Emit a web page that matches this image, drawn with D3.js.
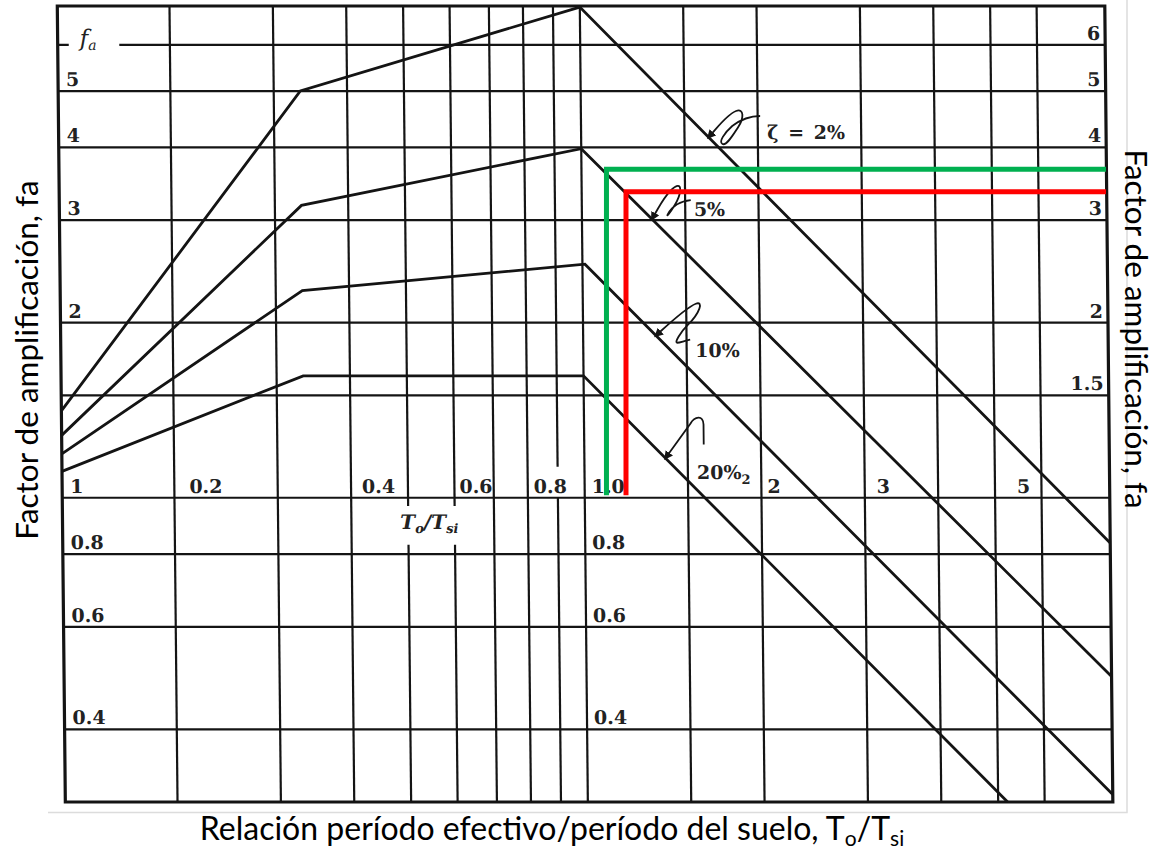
<!DOCTYPE html>
<html><head><meta charset="utf-8">
<script src="https://cdn.jsdelivr.net/npm/d3@7"></script>
<style>
html,body{margin:0;padding:0;background:#fff;}
svg{display:block;}
</style></head><body>
<svg id="chart" width="1159" height="851"></svg>
<script>
// Grid of the log-log chart: period ratio T0/Tsi (horizontal), amplification fa (vertical)
const ratioGrid = [0.2, 0.3, 0.4, 0.5, 0.6, 0.7, 0.8, 0.9, 1, 1.5, 2, 3, 4, 5, 6];
const faGrid = [0.4, 0.6, 0.8, 1, 1.5, 2, 3, 4, 5, 6];

// Tick labels
const ratioLabelValues = [0.2, 0.4, 0.6, 0.8, 1, 2, 3, 5];
const ratioLabels = ["0.2", "0.4", "0.6", "0.8", "1.0", "2", "3", "5"];
const faLeftValues = [5, 4, 3, 2, 1, 0.8, 0.6, 0.4];
const faLeftLabels = ["5", "4", "3", "2", "1", "0.8", "0.6", "0.4"];
const faRightValues = [6, 5, 4, 3, 2, 1.5];
const faRightLabels = ["6", "5", "4", "3", "2", "1.5"];
const faMidValues = [0.8, 0.6, 0.4];
const faMidLabels = ["0.8", "0.6", "0.4"];

// Amplification curves for each damping ratio (corner points)
const dampingLabels = ["2%", "5%", "10%", "20%"];
const ratio2 = [0.1288, 0.333, 1.0, 7.84];
const fa2 = [1.41, 5.0, 6.97, 0.836];
const ratio5 = [0.1288, 0.333, 1.0, 7.84];
const fa5 = [1.28, 3.18, 3.98, 0.493];
const ratio10 = [0.1288, 0.333, 1.01, 7.84];
const fa10 = [1.19, 2.27, 2.52, 0.309];
const ratio20 = [0.1288, 0.333, 1.0, 5.19];
const fa20 = [1.11, 1.62, 1.62, 0.30];

// Ratio at which each damping label points to its curve
const labelRatio = [1.66, 1.321, 1.342, 1.382];

// Design readings: [T0/Tsi, fa]
const greenReading = [1.105, 3.67];
const redReading = [1.193, 3.355];

const svg = d3.select("#chart");
const x = d3.scaleLog().domain([0.1288, 7.84]).range([58.5, 1106]);
const y = d3.scaleLog().domain([0.3, 7]).range([802, 6]);
const [xMin, xMax] = x.domain();
const [yMin, yMax] = y.domain();

// soft frame of the inserted figure
svg.append("path")
  .attr("d", `M1127,0 V812.5 H48`)
  .attr("fill", "none").attr("stroke", "#dcdcdc").attr("stroke-width", 1.5);

// the scanned chart sheet is slightly sheared
const shear = 0.0101, shearRef = 125;
const sheet = svg.append("g")
  .attr("transform", `translate(${-shear * shearRef},0) skewX(${Math.atan(shear) * 180 / Math.PI})`);

const ink = "#141414";
const serif = "'DejaVu Serif', 'Liberation Serif', serif";

// horizontal grid lines, with the gap left for the f_a mark
const hGaps = new Map([[6, [0.1345, 0.164]]]);
faGrid.forEach(v => {
  const gap = hGaps.get(v);
  const segs = gap ? [[xMin, gap[0]], [gap[1], xMax]] : [[xMin, xMax]];
  segs.forEach(s => sheet.append("line")
    .attr("x1", x(s[0])).attr("x2", x(s[1]))
    .attr("y1", y(v)).attr("y2", y(v))
    .attr("stroke", ink).attr("stroke-width", 2.2));
});

// vertical grid lines, with gaps around labels
const vGaps = new Map([[0.5, [0.83, 0.968]], [0.6, [0.83, 0.968]], [0.9, [1.0, 1.13]]]);
ratioGrid.forEach(v => {
  const gap = vGaps.get(v);
  const segs = gap ? [[yMin, gap[0]], [gap[1], yMax]] : [[yMin, yMax]];
  segs.forEach(s => sheet.append("line")
    .attr("x1", x(v)).attr("x2", x(v))
    .attr("y1", y(s[0])).attr("y2", y(s[1]))
    .attr("stroke", ink).attr("stroke-width", 2.2));
});

// outer frame
sheet.append("rect")
  .attr("x", x(xMin)).attr("y", y(yMax))
  .attr("width", x(xMax) - x(xMin)).attr("height", y(yMin) - y(yMax))
  .attr("fill", "none").attr("stroke", ink).attr("stroke-width", 3.2);

// curves
const curves = [[ratio2, fa2], [ratio5, fa5], [ratio10, fa10], [ratio20, fa20]];
const line = d3.line().x(d => x(d[0])).y(d => y(d[1]));
curves.forEach(([rs, fs]) => {
  sheet.append("path")
    .attr("d", line(rs.map((r, i) => [r, fs[i]])))
    .attr("fill", "none").attr("stroke", ink).attr("stroke-width", 2.8)
    .attr("stroke-linejoin", "miter");
});

// tick labels
const labelStyle = sel => sel.attr("font-family", serif).attr("font-weight", "bold")
  .attr("font-size", 19).attr("fill", "#222");

faLeftValues.forEach((v, i) => {
  sheet.append("text").call(labelStyle)
    .attr("x", x(xMin) + 8).attr("y", y(v) - 5).text(faLeftLabels[i]);
});
faRightValues.forEach((v, i) => {
  sheet.append("text").call(labelStyle).attr("text-anchor", "end")
    .attr("x", x(xMax) - 5).attr("y", y(v) - 5).text(faRightLabels[i]);
});
faMidValues.forEach((v, i) => {
  sheet.append("text").call(labelStyle)
    .attr("x", x(1) + 7).attr("y", y(v) - 5).text(faMidLabels[i]);
});
const ratioNudge = [15, 11, 5, 6, 7, 6, 12, 22];
ratioLabelValues.forEach((v, i) => {
  sheet.append("text").call(labelStyle)
    .attr("x", x(v) + ratioNudge[i]).attr("y", y(1) - 5).text(ratioLabels[i]);
});

// f_a symbol
const fa = sheet.append("text").attr("font-family", serif).attr("font-style", "italic")
  .attr("font-size", 23).attr("fill", "#222")
  .attr("x", x(xMin) + 22).attr("y", y(6) + 1);
fa.append("tspan").text("f");
fa.append("tspan").attr("font-size", 14).attr("dy", 4).text("a");

// T0/Tsi label
const tt = sheet.append("text").attr("font-family", serif).attr("font-style", "italic")
  .attr("font-weight", "bold").attr("font-size", 20).attr("fill", "#222")
  .attr("x", x(0.5) - 8).attr("y", y(0.885));
tt.append("tspan").text("T");
tt.append("tspan").attr("font-size", 13).attr("dy", 4).text("o");
tt.append("tspan").attr("dy", -4).text("/T");
tt.append("tspan").attr("font-size", 13).attr("dy", 4).text("si");

// arrowhead for the damping leaders
const defs = svg.append("defs");
defs.append("marker").attr("id", "arrow")
  .attr("viewBox", "0 0 10 10").attr("refX", 1).attr("refY", 5)
  .attr("markerWidth", 5).attr("markerHeight", 5)
  .attr("orient", "auto-start-reverse")
  .append("path").attr("d", "M0,0 L10,5 L0,10 z").attr("fill", ink);

// point on a curve at a given ratio (log-log interpolation)
function curveAt(rs, fs, r) {
  for (let i = 0; i < rs.length - 1; i++) {
    if (r >= rs[i] && r <= rs[i + 1]) {
      const t = Math.log(r / rs[i]) / Math.log(rs[i + 1] / rs[i]);
      return Math.exp(Math.log(fs[i]) + t * Math.log(fs[i + 1] / fs[i]));
    }
  }
  return fs[fs.length - 1];
}

// cursive leaders (relative to the arrow tip) and label offsets
const leaders = [
  "M2,-3 C10,-12 18,-22 26,-25 C34,-28 34,-18 28,-9 C22,0 16,10 12,8 C8,6 14,-3 22,-10 C30,-16 40,-20 50,-20",
  "M2,-3 C7,-12 16,-28 24,-31 C30,-33 28,-22 22,-12 C17,-4 13,1 15,-3 C19,-11 28,-16 38,-17",
  "M2,-3 C12,-12 30,-28 38,-31 C46,-34 42,-22 30,-10 C22,-2 16,8 19,8 C22,8 26,6 32,5",
  "M2,-3 L24,-33 C28,-40 37,-42 37,-32 L37,-12"
];
const textOffsets = [[57, 3], [41, -1], [37, 22], [30, 22]];

curves.forEach(([rs, fs], i) => {
  const r = labelRatio[i];
  const px = x(r), py = y(curveAt(rs, fs, r)) - 3;
  const g = sheet.append("g").attr("transform", `translate(${px},${py})`);
  g.append("path").attr("d", leaders[i])
    .attr("fill", "none").attr("stroke", ink).attr("stroke-width", 1.8)
    .attr("marker-start", "url(#arrow)");
  const t = g.append("text").attr("font-family", serif).attr("font-weight", "bold")
    .attr("font-size", 19).attr("fill", "#222")
    .attr("x", textOffsets[i][0]).attr("y", textOffsets[i][1]);
  if (i === 0) {
    t.text("ζ = " + dampingLabels[i]).attr("word-spacing", 3);
  } else if (i === 3) {
    t.append("tspan").text(dampingLabels[i]);
    t.append("tspan").attr("font-size", 13).attr("dy", 5).text("2");
  } else {
    t.text(dampingLabels[i]);
  }
});

// design readings drawn over the chart
[[greenReading, "#00b050"], [redReading, "#ff0000"]].forEach(([p, c]) => {
  svg.append("path")
    .attr("d", `M${x(p[0])},${y(1.01)} V${y(p[1])} H${x(xMax)}`)
    .attr("fill", "none").attr("stroke", c).attr("stroke-width", 5)
    .attr("stroke-linejoin", "miter");
});

// axis titles
const sans = "Lato, 'Open Sans', sans-serif";
svg.append("text")
  .attr("font-family", sans).attr("font-size", 31.5).attr("fill", "#000")
  .attr("text-anchor", "middle")
  .attr("transform", `translate(38,360) rotate(-90)`)
  .text("Factor de amplificación, fa");
svg.append("text")
  .attr("font-family", sans).attr("font-size", 31.5).attr("fill", "#000")
  .attr("text-anchor", "middle")
  .attr("transform", `translate(1125,329) rotate(90)`)
  .text("Factor de amplificación, fa");
const xt = svg.append("text")
  .attr("font-family", sans).attr("font-size", 32).attr("fill", "#000")
  .attr("text-anchor", "middle").attr("x", 552).attr("y", 840);
xt.append("tspan").text("Relación período efectivo/período del suelo, T");
xt.append("tspan").attr("font-size", 21).attr("dy", 6).text("o");
xt.append("tspan").attr("dy", -6).text("/T");
xt.append("tspan").attr("font-size", 21).attr("dy", 6).text("si");
</script>
</body></html>
